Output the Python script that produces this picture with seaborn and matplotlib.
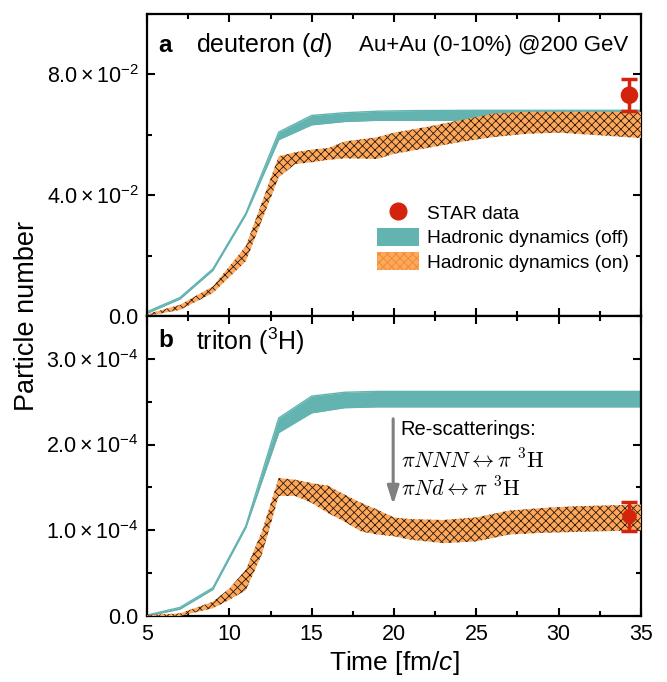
import numpy as np
import pandas as pd
import matplotlib
matplotlib.use('Agg')
import matplotlib.pyplot as plt
import seaborn as sns
from matplotlib.lines import Line2D
from matplotlib.patches import Patch
from matplotlib.ticker import FixedLocator, MultipleLocator

sns.set_style('ticks')
plt.rcParams['font.family'] = ['Liberation Sans', 'DejaVu Sans']
plt.rcParams['mathtext.fontset'] = 'custom'
plt.rcParams['mathtext.rm'] = 'Liberation Sans'
plt.rcParams['mathtext.it'] = 'Liberation Sans:italic'
plt.rcParams['mathtext.bf'] = 'Liberation Sans:bold'
plt.rcParams['hatch.linewidth'] = 0.6
for k in ['text.color', 'axes.labelcolor', 'xtick.color', 'ytick.color', 'axes.edgecolor']:
    plt.rcParams[k] = 'black'

# deuteron, hadronic dynamics off / on  (time in fm/c)
d_off_t = [5, 7, 9, 11, 13, 15, 17, 19, 21, 25, 30, 35]
d_off_hi = [0.0014, 0.0061, 0.0156, 0.0340, 0.0609, 0.0664, 0.0673, 0.0678, 0.0680, 0.0681, 0.0681, 0.0681]
d_off_lo = [0.0009, 0.0056, 0.0151, 0.0335, 0.0584, 0.0633, 0.0644, 0.0648, 0.0648, 0.0648, 0.0648, 0.0648]

d_on_t = [5, 7, 9, 11, 13, 14, 15, 16, 17, 19, 20, 22, 24, 26, 28, 30, 32, 35]
d_on_hi = [0.0006, 0.0037, 0.0098, 0.0231, 0.0529, 0.0542, 0.0551, 0.0556, 0.0578, 0.0592, 0.0607,
           0.0626, 0.0648, 0.0670, 0.0676, 0.0676, 0.0676, 0.0676]
d_on_lo = [0.0000, 0.0020, 0.0076, 0.0181, 0.0459, 0.0503, 0.0509, 0.0517, 0.0522, 0.0520, 0.0537,
           0.0556, 0.0576, 0.0592, 0.0603, 0.0607, 0.0600, 0.0589]

# triton (units of 1e-4)
t_off_t = [5, 7, 9, 11, 13, 15, 17, 19, 25, 30, 35]
t_off_hi = [0.01, 0.10, 0.33, 1.05, 2.31, 2.565, 2.61, 2.62, 2.62, 2.62, 2.62]
t_off_lo = [0.00, 0.08, 0.31, 1.03, 2.14, 2.37, 2.43, 2.44, 2.44, 2.44, 2.44]

t_on_t = [5, 7, 9, 10, 11, 12, 13, 14, 15, 16, 17, 18, 19, 20, 21, 23, 25, 27, 29, 31, 33, 35]
t_on_hi = [0.01, 0.03, 0.167, 0.32, 0.54, 1.00, 1.61, 1.59, 1.55, 1.52, 1.415, 1.32, 1.24, 1.15,
           1.13, 1.12, 1.15, 1.23, 1.26, 1.28, 1.29, 1.30]
t_on_lo = [0.00, 0.00, 0.09, 0.187, 0.30, 0.73, 1.40, 1.40, 1.32, 1.20, 1.10, 0.986, 0.95, 0.93,
           0.89, 0.85, 0.87, 0.95, 0.97, 0.98, 0.99, 1.00]

# STAR data
star_t = [34.3]
star_d = [0.0731]
star_d_err = [0.0053]
star_tr = [1.16]
star_tr_err = [0.17]

teal = '#63B3B0'
orange = '#FFA85A'
red = '#D4230C'

fig = plt.figure(figsize=(6.67, 6.82), dpi=100)
ax1 = fig.add_axes([0.2204, 0.5367, 0.7406, 0.4428])
ax2 = fig.add_axes([0.2204, 0.0968, 0.7406, 0.4399], sharex=ax1)


def draw_band(ax, t, lo, hi, color, hatch=None, scale=1.0):
    df = pd.DataFrame({'t': t, 'lo': np.array(lo) * scale, 'hi': np.array(hi) * scale})
    if hatch:
        ax.fill_between(df['t'], df['lo'], df['hi'], facecolor=color, edgecolor='#2a1a10',
                        hatch=hatch, linewidth=0, zorder=3)
    else:
        ax.fill_between(df['t'], df['lo'], df['hi'], facecolor=color, linewidth=0, zorder=2)
        sns.lineplot(data=df, x='t', y='hi', ax=ax, color=color, lw=1.0, zorder=2)
        sns.lineplot(data=df, x='t', y='lo', ax=ax, color=color, lw=1.0, zorder=2)


draw_band(ax1, d_off_t, d_off_lo, d_off_hi, teal)
draw_band(ax1, d_on_t, d_on_lo, d_on_hi, orange, hatch='xxxx')
draw_band(ax2, t_off_t, t_off_lo, t_off_hi, teal, scale=1e-4)
draw_band(ax2, t_on_t, t_on_lo, t_on_hi, orange, hatch='xxxx', scale=1e-4)

# STAR points
ax1.errorbar(star_t, star_d, yerr=star_d_err, fmt='none', ecolor=red, elinewidth=2.5,
             capsize=6, capthick=2.5, zorder=5)
sns.scatterplot(x=star_t, y=star_d, ax=ax1, color=red, s=160, edgecolor='none', zorder=6)
tr_vals = [v * 1e-4 for v in star_tr]
tr_errs = [v * 1e-4 for v in star_tr_err]
ax2.errorbar(star_t, tr_vals, yerr=tr_errs, fmt='none', ecolor=red, elinewidth=2.5,
             capsize=6, capthick=2.5, zorder=5)
sns.scatterplot(x=star_t, y=tr_vals, ax=ax2, color=red, s=110, edgecolor='none', zorder=6)

# axes styling
for ax in (ax1, ax2):
    ax.set_xlim(5, 35)
    ax.xaxis.set_major_locator(MultipleLocator(5))
    ax.xaxis.set_minor_locator(MultipleLocator(2.5))
    ax.tick_params(which='both', direction='in', top=True, right=True, width=1.5,
                   labelsize=15.5, pad=6)
    ax.tick_params(which='major', length=6)
    ax.tick_params(which='minor', length=3.5)
    for sp in ax.spines.values():
        sp.set_linewidth(1.6)
        sp.set_color('black')
    ax.set_xlabel('')
    ax.set_ylabel('')

ax1.set_ylim(0, 0.1)
ax1.yaxis.set_major_locator(FixedLocator([0, 0.04, 0.08]))
ax1.yaxis.set_minor_locator(MultipleLocator(0.02))
ax1.set_yticklabels(['0.0', r'$4.0\times10^{-2}$', r'$8.0\times10^{-2}$'])
ax1.tick_params(labelbottom=False)

ax2.set_ylim(0, 3.5e-4)
ax2.yaxis.set_major_locator(FixedLocator([0, 1e-4, 2e-4, 3e-4]))
ax2.yaxis.set_minor_locator(MultipleLocator(0.5e-4))
ax2.set_yticklabels(['0.0', r'$1.0\times10^{-4}$', r'$2.0\times10^{-4}$', r'$3.0\times10^{-4}$'])
ax2.set_xlabel(r'Time [fm/$c$]', fontsize=19, labelpad=3)

fig.text(0.040, 1 - 316 / 682, 'Particle number', rotation=90, ha='center', va='center',
         fontsize=19.5)

# panel texts
ax1.text(0.022, 0.897, 'a', transform=ax1.transAxes, fontsize=17.5, fontweight='bold', va='center')
ax1.text(0.10, 0.897, r'deuteron ($d$)', transform=ax1.transAxes, fontsize=18, va='center')
ax1.text(0.43, 0.897, 'Au+Au (0-10%) @200 GeV', transform=ax1.transAxes, fontsize=16, va='center')
ax2.text(0.022, 0.917, 'b', transform=ax2.transAxes, fontsize=17.5, fontweight='bold', va='center')
ax2.text(0.10, 0.917, r'triton ($^3$H)', transform=ax2.transAxes, fontsize=18, va='center')

# re-scattering annotation
ax2.annotate('', xy=(19.95, 1.30e-4), xytext=(19.95, 2.30e-4),
             arrowprops=dict(arrowstyle='-|>,head_width=0.35,head_length=1.1', color='#808080',
                             lw=2.2, shrinkA=0, shrinkB=0))
ax2.text(20.4, 2.175e-4, 'Re-scatterings:', fontsize=14.5, va='center')
ax2.text(20.4, 1.80e-4, r'$\pi NNN \leftrightarrow \pi\ {}^{3}\mathrm{H}$', fontsize=16,
         va='center', math_fontfamily='cm')
ax2.text(20.4, 1.47e-4, r'$\pi Nd \leftrightarrow \pi\ {}^{3}\mathrm{H}$', fontsize=16,
         va='center', math_fontfamily='cm')

# legend
handles = [
    Line2D([], [], marker='o', ls='none', color=red, markersize=12),
    Patch(facecolor=teal, edgecolor='none'),
    Patch(facecolor=orange, edgecolor='#E8892E', hatch='xxxx', linewidth=0),
]
labels = ['STAR data', 'Hadronic dynamics (off)', 'Hadronic dynamics (on)']
ax1.legend(handles, labels, loc='upper left', bbox_to_anchor=(0.466, 0.374), frameon=False,
           fontsize=13.8, borderpad=0, borderaxespad=0, handlelength=2.2, handleheight=1.1,
           handletextpad=0.4, labelspacing=0.25)

fig.savefig('out.png', dpi=100)
